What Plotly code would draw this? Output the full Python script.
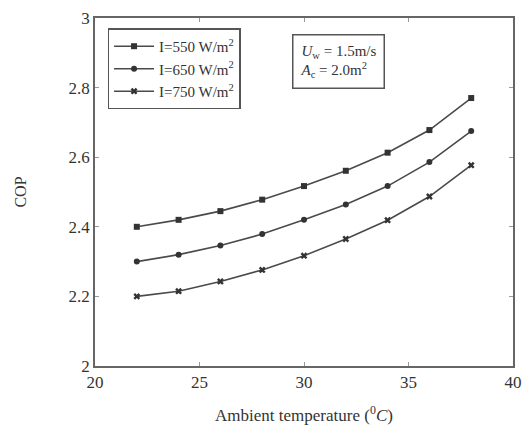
import plotly.graph_objects as go

temps = [22, 24, 26, 28, 30, 32, 34, 36, 38]
cop_550 = [2.40, 2.42, 2.445, 2.478, 2.517, 2.561, 2.613, 2.678, 2.77]
cop_650 = [2.30, 2.32, 2.346, 2.379, 2.42, 2.464, 2.517, 2.586, 2.675]
cop_750 = [2.20, 2.215, 2.243, 2.276, 2.317, 2.365, 2.419, 2.487, 2.577]
labels = ["I=550 W/m<sup>2</sup>", "I=650 W/m<sup>2</sup>", "I=750 W/m<sup>2</sup>"]
x_ticks = [20, 25, 30, 35, 40]
y_ticks = [2, 2.2, 2.4, 2.6, 2.8, 3]
y_ticklabels = ["2", "2.2", "2.4", "2.6", "2.8", "3"]

FONT = "Liberation Serif"
LINE = "#4a4a4a"

fig = go.Figure()
symbols = ["square", "circle", "x"]
for vals, lab, sym in zip([cop_550, cop_650, cop_750], labels, symbols):
    fig.add_trace(go.Scatter(
        x=temps, y=vals, name=lab, mode="lines+markers",
        line=dict(color=LINE, width=1.6),
        marker=dict(symbol=sym, size=6, color="#333333"),
    ))

axis_common = dict(
    showline=True, linecolor="#666666", linewidth=1.5, mirror="ticks",
    ticks="inside", ticklen=4, tickcolor="#999999", showgrid=False, zeroline=False,
    tickfont=dict(family=FONT, size=17, color="#333333"),
)
fig.update_xaxes(range=[20, 40], tickvals=x_ticks, **axis_common,
                 title=dict(text="Ambient temperature (<sup>0</sup><i>C</i>)",
                            font=dict(family=FONT, size=17, color="#333333"), standoff=18))
fig.update_yaxes(range=[2, 3], tickvals=y_ticks, ticktext=y_ticklabels, **axis_common,
                 title=dict(text="COP", font=dict(family=FONT, size=16, color="#333333"), standoff=38))

fig.add_annotation(
    xref="paper", yref="paper", x=0.583, y=0.876, xanchor="center", yanchor="middle",
    text="<i>U</i><sub>w</sub> = 1.5m/s<br><i>A</i><sub>c</sub> = 2.0m<sup>2</sup>",
    showarrow=False, align="left", bordercolor="#555555", borderwidth=1.5, borderpad=7,
    bgcolor="white", font=dict(family=FONT, size=15, color="#333333"),
)

fig.update_layout(
    width=531, height=439,
    margin=dict(l=95, r=9, t=16, b=73),
    plot_bgcolor="white", paper_bgcolor="white",
    legend=dict(x=0.03, y=0.97, xanchor="left", yanchor="top",
                bordercolor="#555555", borderwidth=1.5, bgcolor="white",
                font=dict(family=FONT, size=15, color="#333333"),
                itemwidth=40, tracegroupgap=0),
    showlegend=True,
)

fig.write_html("out.html")
